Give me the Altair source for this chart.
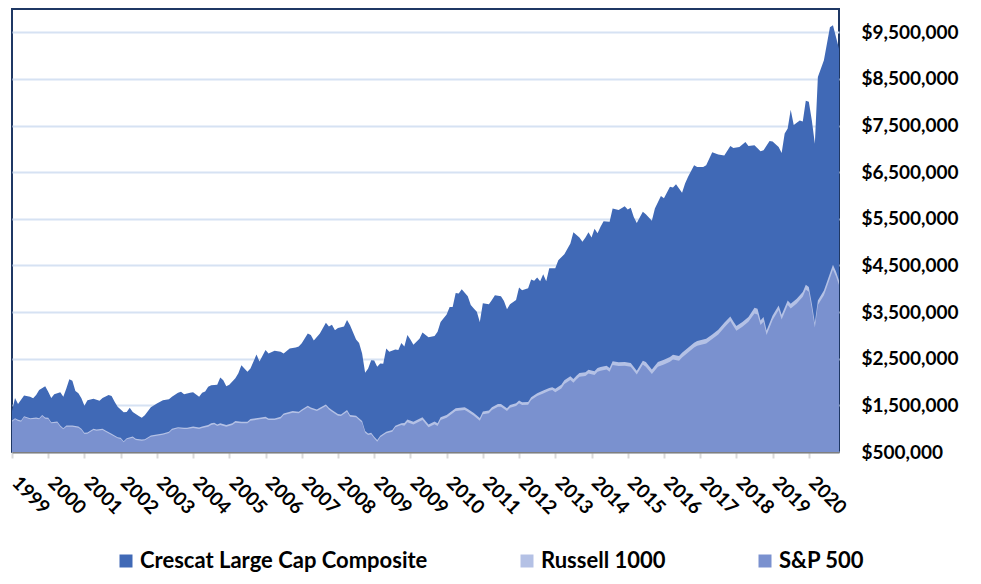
import json
import altair as alt
import pandas as pd

# Tick labels as printed on the category axis (one tick every 12 periods)
tick_labels = ["1999", "2000", "2001", "2002", "2003", "2004", "2005", "2006",
               "2007", "2008", "2009", "2009", "2010", "2011", "2012", "2013",
               "2014", "2015", "2016", "2017", "2018", "2019", "2020"]
tick_periods = [0, 12, 24, 36, 48, 60, 72, 84, 96, 108, 120, 132, 144, 156,
                168, 180, 192, 204, 216, 228, 240, 252, 264]
y_ticks = [0.5, 1.5, 2.5, 3.5, 4.5, 5.5, 6.5, 7.5, 8.5, 9.5]  # $ millions

series_names = ["Crescat Large Cap Composite", "Russell 1000", "S&P 500"]
series_colors = ["#4069B6", "#B4C1E5", "#7A91CF"]

# Crescat Large Cap Composite (period index, value in $ millions)
crescat_period = [0, 1, 2, 4, 6, 7, 8, 9, 11, 12, 13, 14, 16, 17, 18, 19, 20, 21, 22, 23,
                  24, 25, 27, 29, 30, 32, 33, 34, 35, 37, 38, 39, 40, 42, 43, 44, 46, 48, 50, 52,
                  53, 55, 56, 57, 59, 60, 62, 63, 64, 65, 66, 68, 69, 70, 71, 72, 74, 75, 76, 78,
                  79, 81, 82, 84, 85, 87, 89, 90, 92, 94, 95, 96, 98, 99, 100, 102, 104, 105, 106, 107,
                  108, 110, 111, 112, 114, 115, 116, 117, 118, 119, 120, 121, 122, 123, 124, 125, 127, 128, 129, 130,
                  131, 132, 133, 135, 136, 138, 140, 141, 142, 144, 145, 146, 147, 148, 149, 151, 152, 153, 154, 155,
                  156, 158, 159, 160, 162, 163, 164, 165, 167, 168, 169, 171, 172, 173, 174, 175, 176, 177, 178, 180,
                  181, 183, 185, 186, 188, 189, 190, 191, 192, 193, 194, 195, 196, 198, 199, 201, 203, 204, 205, 206,
                  207, 209, 210, 212, 213, 215, 216, 218, 219, 220, 222, 223, 224, 226, 227, 229, 230, 232, 234, 236,
                  238, 239, 241, 243, 244, 246, 248, 249, 251, 252, 254, 255, 256, 257, 258, 259, 261, 262, 263, 264,
                  265, 266, 267, 269, 271, 272, 274]
crescat_value = [1.38, 1.66, 1.53, 1.71, 1.685, 1.65, 1.72, 1.83, 1.91, 1.79, 1.66, 1.74, 1.78, 1.685, 1.86, 2.06, 2.03, 1.81, 1.76, 1.65,
                 1.49, 1.61, 1.64, 1.60, 1.66, 1.72, 1.70, 1.58, 1.47, 1.35, 1.36, 1.45, 1.36, 1.27, 1.235, 1.29, 1.46, 1.54, 1.61, 1.63,
                 1.685, 1.77, 1.79, 1.74, 1.77, 1.78, 1.685, 1.77, 1.80, 1.90, 1.93, 1.94, 2.10, 2.04, 1.91, 1.94, 2.08, 2.19, 2.36, 2.22,
                 2.29, 2.59, 2.44, 2.69, 2.61, 2.67, 2.65, 2.61, 2.72, 2.74, 2.76, 2.83, 3.04, 3.01, 2.89, 3.04, 3.27, 3.19, 3.23, 3.11,
                 3.16, 3.19, 3.33, 3.22, 2.91, 2.84, 2.61, 2.20, 2.29, 2.47, 2.46, 2.33, 2.40, 2.39, 2.72, 2.65, 2.70, 2.69, 2.84, 2.76,
                 3.01, 2.91, 2.80, 2.93, 3.06, 2.96, 2.99, 3.08, 3.29, 3.45, 3.61, 3.61, 3.91, 3.90, 3.99, 3.84, 3.65, 3.58, 3.51, 3.29,
                 3.69, 3.67, 3.76, 3.86, 3.84, 3.74, 3.56, 3.67, 3.76, 4.03, 3.97, 4.01, 4.20, 4.17, 4.24, 4.16, 4.31, 4.16, 4.44, 4.44,
                 4.61, 4.74, 4.97, 5.21, 5.10, 5.01, 5.10, 5.21, 5.10, 5.29, 5.19, 5.33, 5.45, 5.44, 5.72, 5.69, 5.77, 5.70, 5.74, 5.54,
                 5.41, 5.65, 5.60, 5.46, 5.72, 5.99, 5.94, 6.19, 6.17, 6.24, 6.06, 6.26, 6.40, 6.65, 6.61, 6.61, 6.65, 6.93, 6.88, 6.86,
                 7.06, 7.02, 7.04, 7.15, 7.06, 7.08, 6.95, 6.97, 7.17, 7.16, 7.04, 6.91, 7.33, 7.44, 7.84, 7.51, 7.61, 7.59, 8.03, 8.01,
                 7.61, 7.11, 8.54, 8.90, 9.61, 9.65, 9.15]

# S&P 500 and Russell 1000 (same period index list)
index_period = [0, 1, 2, 3, 4, 6, 8, 9, 10, 11, 12, 13, 15, 16, 17, 18, 20, 22, 23, 24,
                25, 27, 28, 30, 31, 33, 35, 36, 37, 38, 40, 41, 43, 44, 46, 48, 50, 52, 53, 55,
                57, 58, 60, 62, 63, 65, 66, 67, 68, 69, 71, 73, 74, 76, 78, 79, 82, 84, 85, 87,
                89, 90, 93, 95, 96, 98, 99, 101, 102, 104, 105, 106, 108, 109, 111, 112, 114, 116, 117, 118,
                119, 120, 121, 122, 124, 126, 127, 129, 130, 131, 133, 136, 138, 140, 141, 142, 144, 146, 147, 150,
                151, 153, 155, 156, 158, 159, 161, 162, 164, 165, 167, 168, 169, 171, 172, 174, 176, 178, 179, 180,
                182, 183, 185, 186, 187, 188, 190, 191, 193, 194, 195, 197, 198, 199, 201, 203, 205, 207, 209, 210,
                212, 214, 216, 218, 219, 221, 222, 224, 226, 227, 230, 232, 234, 236, 238, 239, 240, 242, 244, 246,
                247, 248, 249, 250, 252, 254, 255, 257, 258, 260, 262, 263, 264, 265, 266, 267, 269, 270, 272, 273,
                274]
sp500_value = [1.15, 1.20, 1.164, 1.15, 1.243, 1.20, 1.214, 1.20, 1.271, 1.214, 1.207, 1.114, 1.128, 1.043, 0.986, 1.043, 1.043, 1.021, 0.971, 0.886,
               0.893, 0.971, 0.957, 0.971, 0.936, 0.864, 0.793, 0.779, 0.707, 0.771, 0.807, 0.757, 0.743, 0.75, 0.829, 0.85, 0.871, 0.907, 0.971, 1.007,
               0.993, 0.993, 1.014, 0.993, 1.014, 1.043, 1.079, 1.093, 1.057, 1.079, 1.043, 1.079, 1.129, 1.114, 1.114, 1.171, 1.20, 1.221, 1.186, 1.186,
               1.221, 1.293, 1.343, 1.329, 1.379, 1.457, 1.421, 1.379, 1.414, 1.486, 1.414, 1.364, 1.279, 1.271, 1.364, 1.257, 1.243, 1.129, 0.914, 0.864,
               0.879, 0.793, 0.721, 0.814, 0.90, 0.936, 1.029, 1.079, 1.064, 1.136, 1.09, 1.186, 1.029, 1.093, 1.057, 1.186, 1.236, 1.329, 1.379, 1.40,
               1.364, 1.279, 1.171, 1.307, 1.329, 1.40, 1.471, 1.471, 1.379, 1.45, 1.486, 1.543, 1.507, 1.514, 1.614, 1.70, 1.757, 1.814, 1.829, 1.779,
               1.864, 1.957, 2.043, 1.986, 2.057, 2.114, 2.129, 2.186, 2.15, 2.221, 2.243, 2.271, 2.221, 2.364, 2.343, 2.35, 2.329, 2.164, 2.379, 2.329,
               2.171, 2.329, 2.379, 2.436, 2.486, 2.457, 2.529, 2.636, 2.743, 2.779, 2.829, 2.921, 3.021, 3.171, 3.307, 3.20, 3.10, 3.186, 3.293, 3.471,
               3.45, 3.221, 3.293, 3.007, 3.329, 3.543, 3.343, 3.65, 3.579, 3.686, 3.829, 3.986, 3.936, 3.579, 3.171, 3.65, 3.864, 4.043, 4.414, 4.271,
               4.079]
russell_value = [1.175, 1.225, 1.189, 1.175, 1.268, 1.225, 1.239, 1.225, 1.296, 1.239, 1.232, 1.139, 1.153, 1.068, 1.011, 1.068, 1.068, 1.046, 0.996, 0.911,
                 0.918, 0.996, 0.982, 0.996, 0.961, 0.889, 0.818, 0.804, 0.732, 0.796, 0.832, 0.782, 0.768, 0.775, 0.854, 0.875, 0.896, 0.932, 0.996, 1.032,
                 1.018, 1.018, 1.049, 1.028, 1.049, 1.078, 1.114, 1.128, 1.092, 1.114, 1.078, 1.114, 1.164, 1.149, 1.149, 1.206, 1.235, 1.256, 1.221, 1.221,
                 1.256, 1.328, 1.378, 1.364, 1.414, 1.492, 1.456, 1.414, 1.449, 1.521, 1.449, 1.399, 1.314, 1.306, 1.399, 1.292, 1.278, 1.164, 0.949, 0.899,
                 0.914, 0.828, 0.756, 0.849, 0.935, 0.971, 1.064, 1.114, 1.124, 1.196, 1.15, 1.246, 1.089, 1.153, 1.117, 1.246, 1.296, 1.389, 1.439, 1.46,
                 1.424, 1.339, 1.231, 1.367, 1.389, 1.46, 1.531, 1.531, 1.439, 1.51, 1.546, 1.603, 1.567, 1.574, 1.674, 1.76, 1.817, 1.874, 1.889, 1.859,
                 1.944, 2.037, 2.123, 2.066, 2.137, 2.194, 2.209, 2.266, 2.23, 2.301, 2.323, 2.351, 2.301, 2.444, 2.423, 2.43, 2.409, 2.244, 2.459, 2.429,
                 2.271, 2.429, 2.479, 2.536, 2.586, 2.557, 2.629, 2.736, 2.843, 2.879, 2.929, 3.021, 3.121, 3.271, 3.407, 3.30, 3.20, 3.286, 3.393, 3.591,
                 3.57, 3.321, 3.393, 3.107, 3.429, 3.643, 3.443, 3.75, 3.679, 3.786, 3.929, 4.086, 4.036, 3.679, 3.271, 3.75, 3.964, 4.143, 4.514, 4.371,
                 4.179]

assert len(crescat_period) == len(crescat_value)
assert len(index_period) == len(sp500_value) == len(russell_value)

df_c = pd.DataFrame({"period": crescat_period, "value": crescat_value, "series": series_names[0]})
df_r = pd.DataFrame({"period": index_period, "value": russell_value, "series": series_names[1]})
df_s = pd.DataFrame({"period": index_period, "value": sp500_value, "series": series_names[2]})

FONT = "Lato"
label_expr_x = json.dumps(tick_labels) + "[round(datum.value / 12)]"

x_enc = alt.X(
    "period:Q",
    scale=alt.Scale(domain=[0, 274], nice=False, zero=False),
    axis=alt.Axis(
        values=tick_periods, labelExpr=label_expr_x, title=None, grid=False,
        labelAngle=45, labelAlign="left", labelBaseline="top",
        labelFont=FONT, labelFontWeight="bold", labelFontSize=19, labelColor="#000000",
        labelPadding=15, labelOffset=9, labelFlush=False, labelOverlap=False, labelBound=False,
        domainColor="#7F7F7F", domainWidth=2, tickColor="#D9D9D9", tickWidth=2, tickSize=6,
    ),
)
y_enc = alt.Y(
    "value:Q",
    scale=alt.Scale(domain=[0.5, 10.0], nice=False, zero=False),
    axis=alt.Axis(
        orient="right", values=y_ticks, title=None,
        labelExpr="'$' + format(datum.value * 1000000, ',')",
        labelFont=FONT, labelFontWeight="bold", labelFontSize=19, labelColor="#000000",
        labelPadding=22, ticks=False, domain=False, labelFlush=False,
        grid=True, gridColor="#D6E2F3", gridWidth=2,
    ),
)
color_enc = alt.Color(
    "series:N",
    scale=alt.Scale(domain=series_names, range=series_colors),
    legend=alt.Legend(
        orient="none", legendX=103, legendY=541, direction="horizontal", title=None,
        symbolType="square", symbolSize=169, symbolStrokeWidth=0, symbolOpacity=1,
        labelFont=FONT, labelFontWeight="bold", labelFontSize=22, labelColor="#000000",
        labelOffset=3, columnPadding=88, padding=0, labelLimit=400,
    ),
)


def layer(df):
    return alt.Chart(df).mark_area(clip=True, opacity=1, interpolate="linear").encode(
        x=x_enc, y=y_enc, color=color_enc
    )


chart = alt.layer(layer(df_c), layer(df_r), layer(df_s)).properties(
    width=827,
    height=443,
    autosize=alt.AutoSizeParams(type="none"),
    padding={"left": 4, "top": 1, "right": 126, "bottom": 122},
).configure_view(stroke="#1F3864", strokeWidth=2)

chart.save("out.html", embed_options={"renderer": "svg", "actions": False})
